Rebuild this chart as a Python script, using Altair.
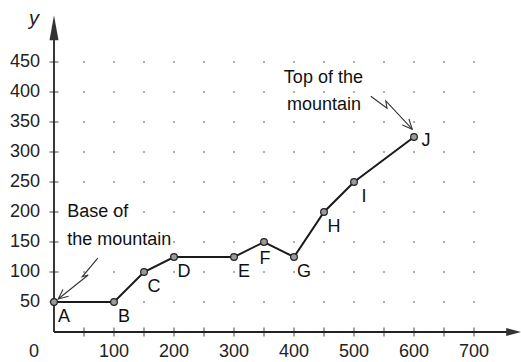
import altair as alt
import pandas as pd

# ---- data ----
names = ["A", "B", "C", "D", "E", "F", "G", "H", "I", "J"]
xs = [0, 100, 150, 200, 300, 350, 400, 450, 500, 600]
ys = [50, 50, 100, 125, 125, 150, 125, 200, 250, 325]

x_tick_labels = [100, 200, 300, 400, 500, 600, 700]
x_minor_ticks = [50, 100, 150, 200, 250, 300, 350, 400, 450, 500, 550, 600, 650, 700]
y_tick_labels = [50, 100, 150, 200, 250, 300, 350, 400, 450]
grid_x = [50, 100, 150, 200, 250, 300, 350, 400, 450, 500, 550, 600, 650, 700]
grid_y = [50, 100, 150, 200, 250, 300, 350, 400, 450]

# annotations (text and arrow paths in data units)
note_text = ["Base of", "the mountain", "Top of the", "mountain"]
note_x = [22, 22, 449, 450]
note_y = [200, 153, 423, 378]
note_align = ["left", "left", "center", "center"]

base_arrow_x = [73, 47, 57, 7]
base_arrow_y = [123, 92, 95, 55]
top_arrow_x = [528, 555, 553, 597]
top_arrow_y = [393, 373, 385, 338]

# ---- tables ----
pts = pd.DataFrame({"x": xs, "y": ys, "name": names, "order": range(len(xs))})
grid = pd.DataFrame([(gx, gy) for gx in grid_x for gy in grid_y], columns=["x", "y"])
xt = pd.DataFrame({"v": x_tick_labels})
xm = pd.DataFrame({"v": x_minor_ticks})
yt = pd.DataFrame({"v": y_tick_labels})
notes = pd.DataFrame({"x": note_x, "y": note_y, "t": note_text, "a": note_align})
arrows = pd.DataFrame(
    [("base", i, a, b) for i, (a, b) in enumerate(zip(base_arrow_x, base_arrow_y))]
    + [("top", i, a, b) for i, (a, b) in enumerate(zip(top_arrow_x, top_arrow_y))],
    columns=["arrow", "order", "x", "y"],
)
heads = pd.DataFrame({
    "x": [base_arrow_x[-1], top_arrow_x[-1]],
    "y": [base_arrow_y[-1], top_arrow_y[-1]],
    "ang": [141, 48],
})

FONT = "Liberation Sans"
FS = 18
XS = alt.Scale(domain=[-90, 778.33], nice=False, zero=False)
YS = alt.Scale(domain=[-50, 553.33], nice=False, zero=False)


def X(f="x"):
    return alt.X(f"{f}:Q", scale=XS, axis=None)


def Y(f="y"):
    return alt.Y(f"{f}:Q", scale=YS, axis=None)


base = alt.Chart(pts)

# grid dots
dots = alt.Chart(grid).mark_circle(size=4, color="#888", opacity=0.9).encode(x=X(), y=Y())

# axes
axis_df = pd.DataFrame({"x0": [0, 0], "y0": [0, 0], "x1": [0, 755], "y1": [487, 0]})
axes = alt.Chart(axis_df).mark_rule(color="#222", strokeWidth=1.8).encode(
    x=X("x0"), y=Y("y0"), x2="x1:Q", y2="y1:Q"
)
y_arrow = alt.Chart(pd.DataFrame({"x": [0], "y": [507]})).mark_point(
    shape="M0,-1L0.36,1L-0.36,1Z", size=625, filled=True, color="#333", opacity=1
).encode(x=X(), y=Y())
x_arrow = alt.Chart(pd.DataFrame({"x": [766], "y": [0]})).mark_point(
    shape="M1,0L-1,-0.55L-1,0.55Z", size=220, filled=True, color="#333", opacity=1
).encode(x=X(), y=Y())

x_ticks = alt.Chart(xm).mark_tick(orient="vertical", size=9, thickness=1.2, color="#222").encode(
    x=X("v"), y=alt.Y("z:Q", scale=YS, axis=None)
).transform_calculate(z="0")
y_ticks = alt.Chart(yt).mark_tick(orient="horizontal", size=9, thickness=1.2, color="#222").encode(
    y=Y("v"), x=alt.X("z:Q", scale=XS, axis=None)
).transform_calculate(z="0")

x_labels = alt.Chart(xt).mark_text(font=FONT, fontSize=FS, color="#222", dy=20).encode(
    x=X("v"), y=alt.Y("z:Q", scale=YS, axis=None), text="v:Q"
).transform_calculate(z="0")
y_labels = alt.Chart(yt).mark_text(font=FONT, fontSize=FS, color="#222", align="right", dx=-14).encode(
    y=Y("v"), x=alt.X("z:Q", scale=XS, axis=None), text="v:Q"
).transform_calculate(z="0")
zero_label = alt.Chart(pd.DataFrame({"x": [0], "y": [0], "t": ["0"]})).mark_text(
    font=FONT, fontSize=FS, color="#222", align="right", dx=-15, dy=20
).encode(x=X(), y=Y(), text="t:N")
y_title = alt.Chart(pd.DataFrame({"x": [0], "y": [0], "t": ["y"]})).mark_text(
    font=FONT, fontSize=20, fontStyle="italic", color="#222", align="right", dx=-15
).encode(x=X(), y=alt.Y("yy:Q", scale=YS, axis=None), text="t:N").transform_calculate(yy="522")

# data line and points
line = base.mark_line(color="#1a1a1a", strokeWidth=2).encode(x=X(), y=Y(), order="order:Q")
markers = base.mark_circle(size=45, color="#9a9a9a", stroke="#222", strokeWidth=1.2, opacity=1).encode(
    x=X(), y=Y()
)
lab_main = base.mark_text(font=FONT, fontSize=FS, color="#111", dx=10, dy=15).encode(
    x=X(), y=Y(), text="name:N"
).transform_filter("datum.name != 'F' && datum.name != 'J'")
lab_f = base.mark_text(font=FONT, fontSize=FS, color="#111", dx=1, dy=17).encode(
    x=X(), y=Y(), text="name:N"
).transform_filter("datum.name == 'F'")
lab_j = base.mark_text(font=FONT, fontSize=FS, color="#111", dx=12, dy=4).encode(
    x=X(), y=Y(), text="name:N"
).transform_filter("datum.name == 'J'")

# annotations
note_left = alt.Chart(notes).mark_text(font=FONT, fontSize=FS, color="#111", align="left").encode(
    x=X(), y=Y(), text="t:N"
).transform_filter("datum.a == 'left'")
note_center = alt.Chart(notes).mark_text(font=FONT, fontSize=FS, color="#111", align="center").encode(
    x=X(), y=Y(), text="t:N"
).transform_filter("datum.a == 'center'")
arrow_lines = alt.Chart(arrows).mark_line(color="#333", strokeWidth=1.1).encode(
    x=X(), y=Y(), detail="arrow:N", order="order:Q"
)
arrow_heads = alt.Chart(heads).mark_point(
    shape="M-1,-0.45L0,0L-1,0.45", size=380, filled=False, color="#333", strokeWidth=1.1, opacity=1
).encode(x=X(), y=Y(), angle=alt.Angle("ang:Q", scale=None))

chart = alt.layer(
    dots, axes, y_arrow, x_arrow, x_ticks, y_ticks, x_labels, y_labels, zero_label, y_title,
    line, markers, lab_main, lab_f, lab_j, note_left, note_center, arrow_lines, arrow_heads,
).properties(
    width=521, height=362, padding=0, autosize=alt.AutoSizeParams(type="none"), background="white"
).configure_view(stroke=None)

chart.save("out.html", embed_options={"renderer": "svg", "actions": False})
